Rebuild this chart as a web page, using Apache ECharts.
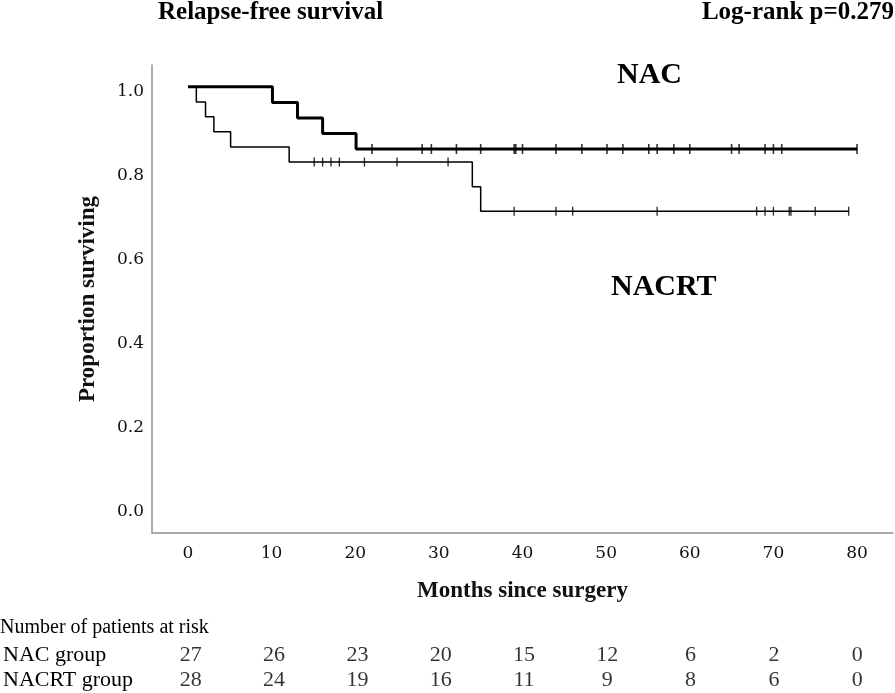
<!DOCTYPE html>
<html><head><meta charset="utf-8">
<script src="https://cdn.jsdelivr.net/npm/echarts@6/dist/echarts.min.js"></script>
<style>html,body{margin:0;padding:0;background:#fff}#c{width:895px;height:693px}</style>
</head><body><div id="c"></div>
<script>
// ---- data ----
const xTicks = [0, 10, 20, 30, 40, 50, 60, 70, 80];
const yTicks = [0, 0.2, 0.4, 0.6, 0.8, 1.0];

const nacEventTimes = [10.1, 13.1, 16.1, 20.1];
const nacEventSurv  = [0.963, 0.926, 0.889, 0.852];
const nacEnd = 80.0;
const nacCensorTimes = [22.0, 28.0, 29.1, 32.1, 35.0, 39.0, 39.2, 40.0, 44.0, 47.1, 50.1, 52.0, 55.1, 56.1, 58.1, 60.0, 65.0, 65.9, 69.0, 70.0, 71.0, 80.0];

const nacrtEventTimes = [1.0, 2.1, 3.1, 5.1, 12.1, 34.0, 35.0];
const nacrtEventSurv  = [0.964, 0.929, 0.893, 0.857, 0.821, 0.762, 0.704];
const nacrtEnd = 79.0;
const nacrtCensorTimes = [15.1, 16.1, 17.1, 18.1, 21.1, 25.0, 31.1, 39.0, 44.0, 46.0, 56.1, 68.0, 69.0, 70.0, 71.9, 72.1, 75.0, 79.0];

const riskTimes   = [0, 10, 20, 30, 40, 50, 60, 70, 80];
const nacAtRisk   = [27, 26, 23, 20, 15, 12, 6, 2, 0];
const nacrtAtRisk = [28, 24, 19, 16, 11, 9, 8, 6, 0];
const groupNames  = ['NAC group', 'NACRT group'];

// ---- helpers ----
function stepData(times, surv, end) {
  const d = [[0, 1]];
  times.forEach((t, i) => d.push([t, surv[i]]));
  d.push([end, surv[surv.length - 1]]);
  return d;
}
function survAt(times, surv, t) {
  let s = 1;
  times.forEach((et, i) => { if (et <= t) s = surv[i]; });
  return s;
}
function censorData(ct, times, surv) {
  return ct.map(t => [t, survAt(times, surv, t)]);
}

const serif = '"Liberation Serif", "Times New Roman", serif';
const tickFont = '"DejaVu Serif", serif';

const chart = echarts.init(document.getElementById('c'), null, {renderer: 'canvas'});
chart.setOption({
  animation: false,
  backgroundColor: '#fff',
  grid: [
    {left: 152, right: 2, top: 65, bottom: 160, containLabel: false},
    {left: 152, right: 2, top: 643, height: 52, containLabel: false}
  ],
  xAxis: [
    {
      type: 'value', gridIndex: 0, min: -4.3, max: 84.3,
      axisLine: {show: true, onZero: false, lineStyle: {color: '#8f8f8f', width: 1.5}},
      axisTick: {show: false},
      splitLine: {show: false},
      axisLabel: {customValues: xTicks, color: '#111', fontFamily: tickFont, fontSize: 17, margin: 12},
      name: 'Months since surgery', nameLocation: 'middle', nameGap: 47,
      nameTextStyle: {fontFamily: serif, fontWeight: 'bold', fontSize: 23, color: '#111'}
    },
    {
      type: 'value', gridIndex: 1, min: -4.3, max: 84.3, show: false
    }
  ],
  yAxis: [
    {
      type: 'value', gridIndex: 0, min: -0.062, max: 1.052,
      axisLine: {show: true, onZero: false, lineStyle: {color: '#8f8f8f', width: 1.5}},
      axisTick: {show: false},
      splitLine: {show: false},
      axisLabel: {customValues: yTicks, formatter: v => v.toFixed(1), color: '#111', fontFamily: tickFont, fontSize: 17, margin: 8, verticalAlign: 'top', lineHeight: 10},
      name: 'Proportion surviving', nameLocation: 'middle', nameGap: 52, nameRotate: 90,
      nameTextStyle: {fontFamily: serif, fontWeight: 'bold', fontSize: 23, color: '#111'}
    },
    {
      type: 'category', gridIndex: 1, data: groupNames, inverse: true,
      axisLine: {show: false}, axisTick: {show: false}, splitLine: {show: false},
      axisLabel: {show: true, interval: 0, align: 'left', margin: 152, color: '#000', fontFamily: serif, fontSize: 22}
    }
  ],
  series: [
    {
      name: 'NAC', type: 'line', step: 'end', xAxisIndex: 0, yAxisIndex: 0,
      data: stepData(nacEventTimes, nacEventSurv, nacEnd),
      showSymbol: false, lineStyle: {color: '#000', width: 3}, z: 3
    },
    {
      name: 'NACRT', type: 'line', step: 'end', xAxisIndex: 0, yAxisIndex: 0,
      data: stepData(nacrtEventTimes, nacrtEventSurv, nacrtEnd),
      showSymbol: false, lineStyle: {color: '#000', width: 1.5}, z: 3
    },
    {
      name: 'NAC censored', type: 'scatter', xAxisIndex: 0, yAxisIndex: 0,
      data: censorData(nacCensorTimes, nacEventTimes, nacEventSurv),
      symbol: 'rect', symbolSize: [1.6, 10], itemStyle: {color: '#000'}, z: 4
    },
    {
      name: 'NACRT censored', type: 'scatter', xAxisIndex: 0, yAxisIndex: 0,
      data: censorData(nacrtCensorTimes, nacrtEventTimes, nacrtEventSurv),
      symbol: 'rect', symbolSize: [1.4, 9], itemStyle: {color: '#000'}, z: 4
    },
    {
      name: 'at risk', type: 'scatter', xAxisIndex: 1, yAxisIndex: 1,
      data: riskTimes.map((t, i) => [t, groupNames[0], nacAtRisk[i]])
        .concat(riskTimes.map((t, i) => [t, groupNames[1], nacrtAtRisk[i]])),
      symbolSize: 0,
      label: {show: true, position: 'inside', formatter: p => String(p.data[2]), color: '#000', fontFamily: serif, fontSize: 22}
    }
  ],
  graphic: [
    {type: 'text', left: 158, top: 0, style: {text: 'Relapse-free survival', font: 'bold 25px ' + serif, fill: '#000'}},
    {type: 'text', right: 1, top: 0, style: {text: 'Log-rank p=0.279', font: 'bold 25px ' + serif, fill: '#000'}},
    {type: 'text', left: 617, top: 60, style: {text: 'NAC', font: 'bold 30px ' + serif, fill: '#000'}},
    {type: 'text', left: 611, top: 272, style: {text: 'NACRT', font: 'bold 30px ' + serif, fill: '#000'}},
    {type: 'text', left: 0, top: 618, style: {text: 'Number of patients at risk', font: '20px ' + serif, fill: '#000'}}
  ]
});
</script></body></html>
